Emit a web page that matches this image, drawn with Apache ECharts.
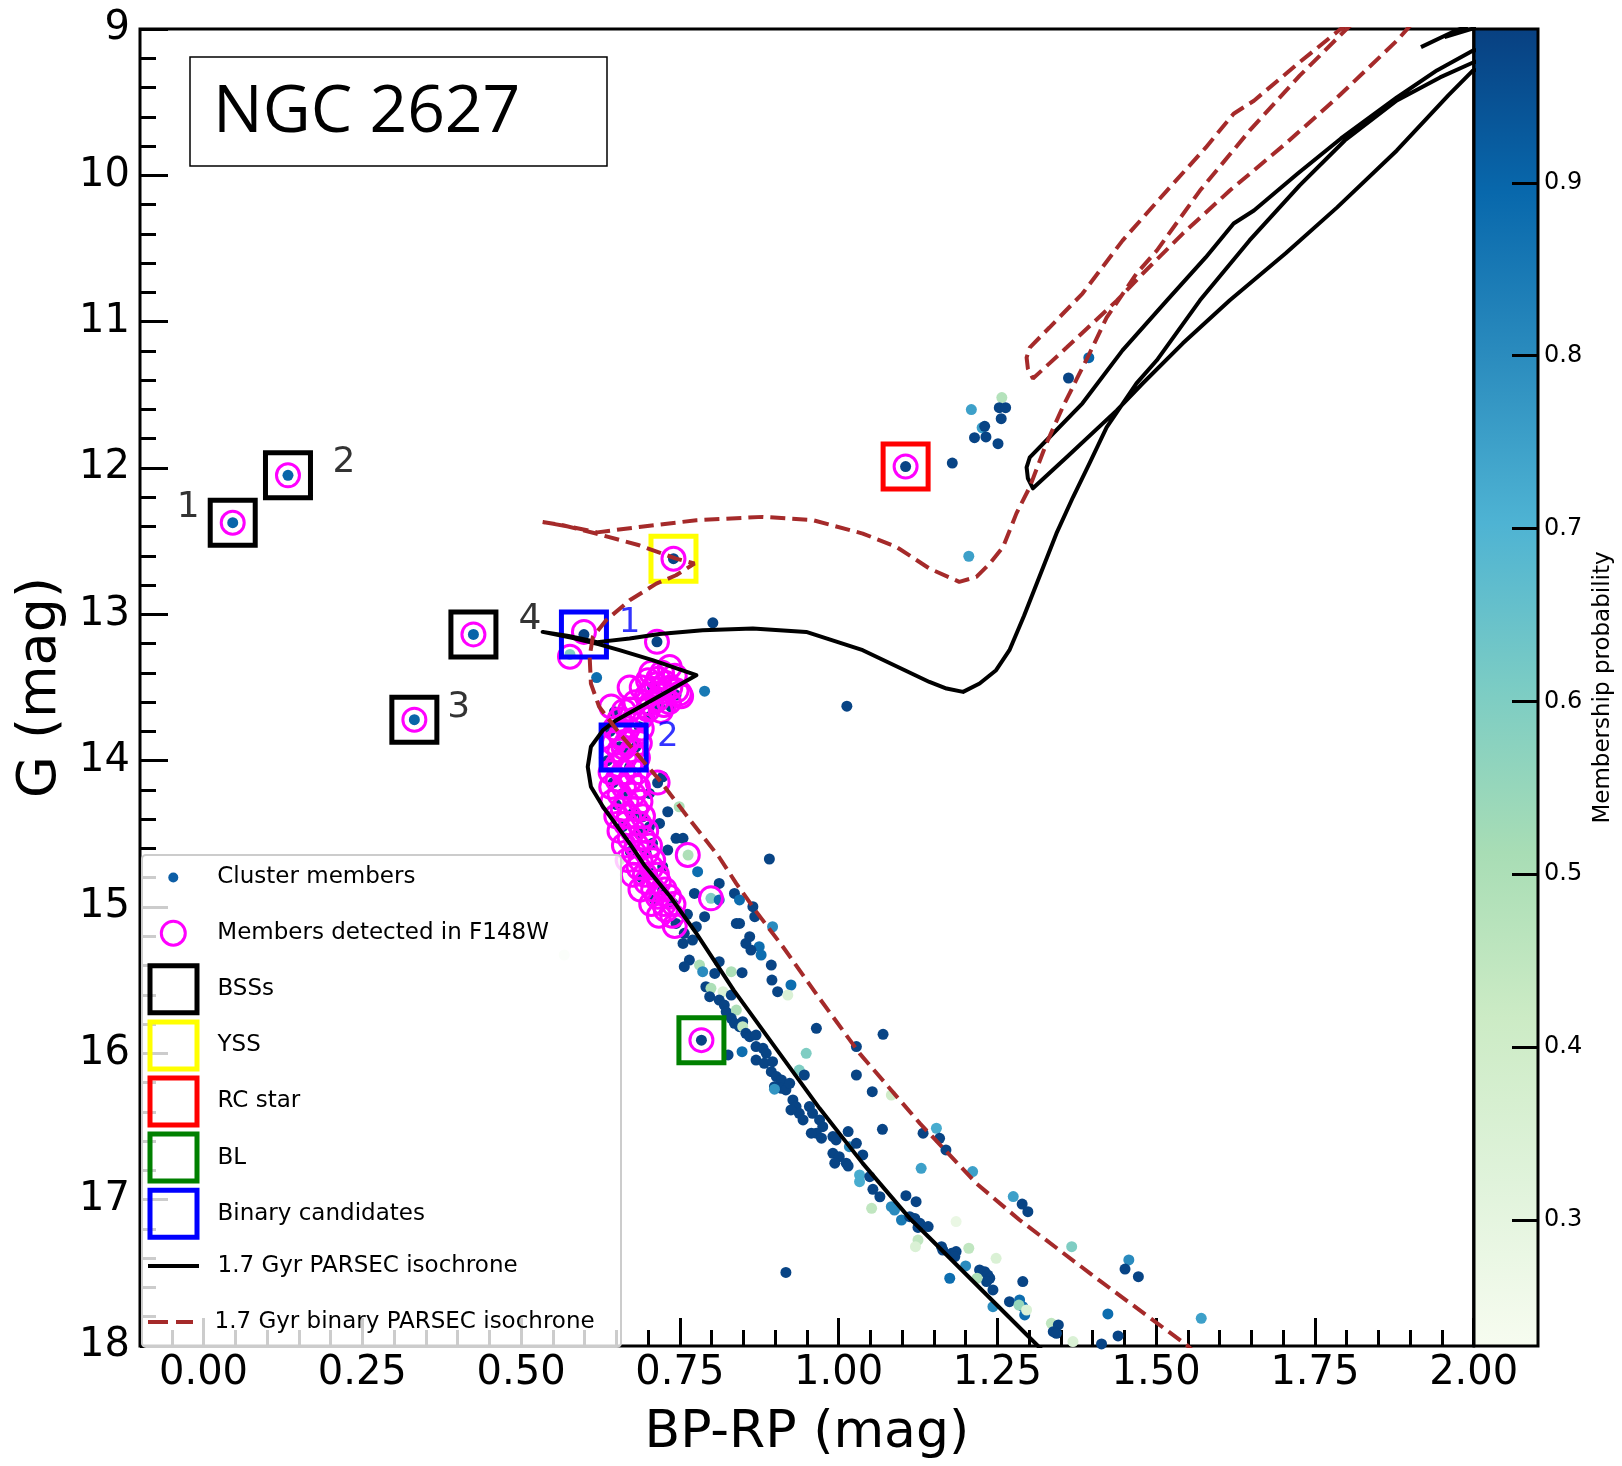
<!DOCTYPE html>
<html><head><meta charset="utf-8">
<script src="https://cdn.jsdelivr.net/npm/echarts@6/dist/echarts.min.js"></script>
<style>html,body{margin:0;padding:0;background:#fff}#c{width:1622px;height:1466px}</style>
</head><body><div id="c"></div>
<script>
const FONT = 'DejaVu Sans';

// ---- axis ticks / labels ----
const xMajorTicks = [0, 0.25, 0.5, 0.75, 1.0, 1.25, 1.5, 1.75, 2.0];
const xMinorTicks = [-0.05,0.05,0.10,0.15,0.20,0.30,0.35,0.40,0.45,0.55,0.60,0.65,0.70,0.80,0.85,0.90,0.95,
  1.05,1.10,1.15,1.20,1.30,1.35,1.40,1.45,1.55,1.60,1.65,1.70,1.80,1.85,1.90,1.95];
const yTicks = [9,10,11,12,13,14,15,16,17,18];
const cbarTicks = [0.3,0.4,0.5,0.6,0.7,0.8,0.9];
const GnBu = ['#f7fcf0','#e0f3db','#ccebc5','#a8ddb5','#7bccc4','#4eb3d3','#2b8cbe','#0868ac','#084081'];

// ---- special stars [BP-RP, G] ----
const bssStars = [[0.046,12.374],[0.133,12.05],[0.332,13.72],[0.425,13.137]];
const yssStars = [[0.740,12.62]];
const rcStars = [[1.1055,11.99]];
const blStars = [[0.784,15.91]];
const binaryStars = [[0.599,13.138],[0.6615,13.91]];
const bssLabels = [['1',-0.024,12.268],['2',0.221,11.964],['3',0.402,13.639],['4',0.514,13.038]];
const binaryLabels = [['1',0.671,13.063],['2',0.731,13.837]];

// ---- cluster members [BP-RP, G, membership probability] ----
const membersSpecial = [[0.046,12.374,0.9],[0.133,12.05,0.9],[0.332,13.72,0.9],[0.425,13.137,0.9],
  [0.740,12.62,0.98],[1.1055,11.99,0.98],[0.784,15.91,0.98],[0.599,13.138,0.98],[0.6615,13.91,0.98]];
const membersGiants = [[1.209,11.601,0.75],[1.257,11.519,0.48],[1.253,11.588,0.98],[1.263,11.588,0.98],
  [1.256,11.663,0.98],[1.226,11.725,0.75],[1.230,11.715,0.98],[1.214,11.793,0.98],[1.232,11.788,0.98],
  [1.251,11.834,0.98],[1.179,11.966,0.98],[1.362,11.385,0.98],[1.394,11.246,0.9],[1.205,12.603,0.75],
  [1.013,13.628,0.98]];
const membersTurnoff = [[0.577,13.274,0.6],[0.802,13.058,0.98],[0.714,13.188,0.98],[0.619,13.432,0.88],
  [0.789,13.525,0.85],[0.744,13.552,0.98],[0.736,13.632,0.98],[0.647,13.666,0.98],[0.715,14.151,0.98],
  [0.749,14.315,0.5],[0.731,14.349,0.98],[0.718,14.429,0.98],[0.702,14.452,0.98],[0.744,14.531,0.98],
  [0.755,14.531,0.98],[0.731,14.611,0.98],[0.763,14.645,0.5],[0.891,14.672,0.98],[0.778,14.759,0.88],
  [0.812,14.839,0.98],[0.773,14.907,0.98],[0.799,14.941,0.6],[0.812,14.952,0.88],[0.836,14.907,0.98],
  [0.844,14.952,0.88],[0.789,15.066,0.98],[0.776,15.135,0.98],[0.757,15.18,0.98],[0.770,15.226,0.98],
  [0.755,15.249,0.98],[0.868,15.066,0.98],[0.839,15.112,0.98],[0.844,15.112,0.98],[0.860,15.203,0.98],
  [0.875,15.271,0.88],[0.896,15.135,0.8],[0.865,14.998,0.98],[0.568,15.328,0.28],[0.655,14.68,0.35],
  [0.655,13.905,0.98],[0.671,14.042,0.98],[0.660,14.224,0.98],[0.676,14.36,0.98],[0.686,14.497,0.98],
  [0.697,14.634,0.98],[0.707,14.77,0.98],[0.723,14.884,0.98],[0.739,14.975,0.98],[0.744,15.112,0.98],
  [0.681,13.905,0.98],[0.686,13.768,0.98],[0.702,13.70,0.98],[0.718,13.632,0.98],[0.728,13.541,0.98],
  [0.707,13.495,0.98],[0.723,14.11,0.98],[0.702,14.224,0.98],[0.692,14.383,0.98],[0.707,14.565,0.98],
  [0.723,14.725,0.98],[0.640,13.80,0.98],[0.636,14.0,0.98],[0.645,14.15,0.98],[0.650,14.3,0.98],
  [0.660,14.45,0.98],[0.672,14.62,0.98],[0.690,14.8,0.98],[0.710,14.95,0.98],[0.762,15.05,0.98]];
const membersMS = [[0.765,15.363,0.98],[0.757,15.408,0.98],[0.781,15.397,0.5],[0.786,15.442,0.8],
  [0.805,15.454,0.98],[0.831,15.442,0.5],[0.848,15.449,0.98],[0.812,15.374,0.98],[0.894,15.397,0.98],
  [0.878,15.328,0.88],[0.854,15.249,0.98],[0.862,15.294,0.98],[0.895,15.499,0.98],[0.904,15.579,0.98],
  [0.925,15.533,0.88],[0.920,15.602,0.35],[0.791,15.545,0.98],[0.799,15.556,0.5],[0.797,15.613,0.98],
  [0.818,15.579,0.35],[0.831,15.602,0.98],[0.812,15.636,0.98],[0.820,15.67,0.98],[0.823,15.716,0.98],
  [0.839,15.704,0.5],[0.831,15.761,0.98],[0.836,15.795,0.98],[0.844,15.818,0.98],[0.849,15.784,0.98],
  [0.849,15.818,0.45],[0.854,15.863,0.98],[0.860,15.886,0.98],[0.870,15.875,0.98],[0.848,15.989,0.88],
  [0.826,16.011,0.98],[0.870,15.954,0.98],[0.881,15.966,0.98],[0.886,16.0,0.98],[0.870,16.046,0.98],
  [0.883,16.068,0.98],[0.896,16.057,0.98],[0.894,16.125,0.98],[0.902,16.159,0.98],[0.910,16.182,0.98],
  [0.899,16.228,0.98],[0.910,16.239,0.98],[0.917,16.25,0.98],[0.923,16.205,0.98],[0.899,16.245,0.78],
  [0.938,16.114,0.6],[0.949,16.0,0.6],[0.946,16.148,0.98],[0.928,16.319,0.98],[0.933,16.364,0.98],
  [0.938,16.41,0.98],[0.925,16.387,0.98],[0.954,16.364,0.98],[0.959,16.41,0.98],[0.944,16.455,0.98],
  [0.970,16.455,0.98],[0.975,16.501,0.98],[0.965,16.546,0.98],[0.957,16.546,0.98],[0.973,16.58,0.98],
  [0.991,16.569,0.98],[0.996,16.592,0.98],[1.015,16.535,0.98],[1.017,16.638,0.8],[1.028,16.615,0.98],
  [0.991,16.683,0.98],[1.001,16.706,0.98],[1.012,16.751,0.98],[0.994,16.751,0.98],[1.015,16.77,0.98],
  [1.038,16.694,0.98],[1.033,16.831,0.72],[1.049,16.843,0.98],[0.965,15.829,0.98],[1.028,15.954,0.98],
  [1.028,16.148,0.98],[1.053,16.262,0.98],[1.070,15.87,0.98],[1.069,16.519,0.98],[1.083,16.285,0.4],
  [1.133,16.546,0.98],[1.154,16.512,0.72],[1.159,16.581,0.98],[1.169,16.66,0.98],[1.130,16.786,0.75],
  [1.211,16.808,0.75]];
const membersLowerMS = [[1.033,16.877,0.72],[1.054,16.929,0.98],[1.065,16.98,0.98],[1.052,17.059,0.45],
  [1.083,17.048,0.8],[1.088,17.071,0.8],[1.106,16.973,0.98],[1.122,17.014,0.98],[1.099,17.139,0.85],
  [1.112,17.116,0.98],[1.120,17.128,0.98],[1.128,17.162,0.98],[1.141,17.184,0.98],[1.125,17.19,0.98],
  [1.125,17.276,0.45],[1.121,17.321,0.35],[1.185,17.15,0.28],[1.162,17.321,0.98],[1.164,17.344,0.98],
  [1.178,17.367,0.98],[1.185,17.355,0.98],[1.183,17.389,0.98],[1.205,17.332,0.45],[1.200,17.453,0.8],
  [1.248,17.401,0.35],[1.222,17.48,0.98],[1.230,17.492,0.98],[1.235,17.515,0.98],[1.238,17.537,0.98],
  [1.243,17.617,0.98],[1.233,17.56,0.98],[1.218,17.537,0.5],[1.175,17.537,0.88],[1.243,17.731,0.8],
  [1.269,17.697,0.98],[1.285,17.685,0.88],[1.290,17.731,0.88],[1.293,17.788,0.88],[1.284,17.72,0.55],
  [1.296,17.754,0.35],[1.290,17.56,0.98],[1.275,16.979,0.75],[1.289,17.03,0.98],[1.298,17.082,0.98],
  [1.367,17.321,0.6],[1.457,17.412,0.8],[1.451,17.474,0.98],[1.472,17.526,0.98],[1.424,17.781,0.88],
  [1.440,17.931,0.98],[1.414,17.986,0.98],[1.571,17.811,0.75],[1.335,17.845,0.45],[1.338,17.902,0.98],
  [1.346,17.856,0.98],[1.343,17.913,0.98],[1.369,17.97,0.35],[0.917,17.497,0.98]];

// ---- members detected in F148W [BP-RP, G] ----
const detectedSpecial = [[0.046,12.374],[0.133,12.05],[0.332,13.72],[0.425,13.137],[0.740,12.62],
  [1.1055,11.99],[0.784,15.91],[0.599,13.12],[0.6615,13.91]];
const detectedBlob = [[0.577,13.29],[0.714,13.188],[0.734,13.36],[0.742,13.42],[0.700,13.45],[0.716,13.44],
  [0.728,13.47],[0.690,13.50],[0.708,13.51],[0.724,13.53],[0.745,13.52],[0.752,13.56],[0.698,13.56],
  [0.715,13.58],[0.733,13.60],[0.680,13.60],[0.662,13.66],[0.642,13.63],[0.700,13.65],[0.720,13.66],
  [0.690,13.70],[0.671,13.50],[0.750,13.54],[0.705,13.40],[0.722,13.40],[0.712,13.48],[0.735,13.50],
  [0.705,13.61],[0.725,13.62],[0.672,13.65],[0.655,13.72],[0.678,13.72]];
const detectedBand = [[0.648,13.78],[0.668,13.78],[0.690,13.78],[0.646,13.88],[0.666,13.88],[0.687,13.88],
  [0.643,13.98],[0.663,13.98],[0.684,13.98],[0.641,14.08],[0.661,14.08],[0.682,14.08],[0.642,14.18],
  [0.662,14.18],[0.684,14.18],[0.715,14.15],[0.644,14.28],[0.666,14.28],[0.688,14.28],[0.650,14.38],
  [0.670,14.38],[0.692,14.38],[0.655,14.48],[0.676,14.48],[0.697,14.48],[0.662,14.58],[0.682,14.58],
  [0.703,14.58],[0.668,14.68],[0.688,14.68],[0.708,14.68],[0.7625,14.645],[0.676,14.78],[0.695,14.78],
  [0.714,14.78],[0.688,14.88],[0.708,14.88],[0.726,14.88],[0.705,14.98],[0.725,14.98],[0.740,14.98],
  [0.799,14.941],[0.717,15.06],[0.738,15.06],[0.742,15.13],
  [0.657,13.83],[0.678,13.83],[0.655,13.93],[0.675,13.93],[0.652,14.03],[0.672,14.03],[0.652,14.13],
  [0.672,14.13],[0.655,14.23],[0.677,14.23],[0.660,14.33],[0.681,14.33],[0.665,14.43],[0.686,14.43],
  [0.671,14.53],[0.692,14.53],[0.678,14.63],[0.698,14.63],[0.685,14.73],[0.705,14.73],[0.697,14.83],
  [0.717,14.83],[0.715,14.93],[0.733,14.93],[0.728,15.02]];

// ---- 1.7 Gyr PARSEC isochrone [BP-RP, G] ----
const isoSingle = [[1.337,18.1],[1.314,18.0],[1.233,17.65],[1.143,17.26],[1.112,17.128],[1.038,16.752],
  [0.970,16.376],[0.907,16.0],[0.835,15.57],[0.776,15.18],[0.735,14.93],[0.695,14.72],[0.671,14.565],
  [0.629,14.315],[0.610,14.178],[0.605,14.042],[0.610,13.905],[0.629,13.791],[0.650,13.723],[0.697,13.609],
  [0.739,13.507],[0.776,13.416],[0.707,13.313],[0.655,13.245],[0.623,13.205],[0.580,13.16],[0.534,13.12],
  [0.575,13.148],[0.620,13.19],[0.671,13.165],[0.718,13.135],[0.786,13.108],[0.865,13.097],[0.949,13.12],
  [1.038,13.245],[1.143,13.462],[1.170,13.507],[1.196,13.53],[1.222,13.473],[1.248,13.382],[1.269,13.245],
  [1.292,13.01],[1.312,12.789],[1.343,12.447],[1.369,12.2],[1.395,11.968],[1.422,11.722],[1.469,11.422],
  [1.501,11.264],[1.569,10.854],[1.647,10.445],[1.726,10.069],[1.797,9.762],[1.879,9.488],[1.947,9.331],
  [1.999,9.229],[2.06,9.15],[2.06,9.25],[1.999,9.283],[1.960,9.454],[1.879,9.83],[1.785,10.219],
  [1.704,10.533],[1.616,10.854],[1.542,11.148],[1.479,11.421],[1.438,11.606],[1.359,11.927],[1.306,12.139],
  [1.298,12.07],[1.296,11.995],[1.301,11.927],[1.332,11.79],[1.384,11.558],[1.447,11.196],[1.517,10.854],
  [1.578,10.561],[1.622,10.329],[1.654,10.24],[1.723,9.987],[1.791,9.748],[1.879,9.468],[1.942,9.283],
  [1.999,9.147],[2.06,9.1]];
const isoSingleAGB1 = [[1.917,9.124],[1.966,9.022],[1.99,8.98]];
const isoSingleAGB2 = [[1.954,9.056],[1.997,8.999],[2.02,8.97]];

// ---- 1.7 Gyr binary PARSEC isochrone [BP-RP, G] ----
const isoBinary = [[1.565,18.06],[1.548,17.993],[1.41,17.55],[1.285,17.139],[1.217,16.889],[1.128,16.479],
  [1.033,16.0],[0.970,15.625],[0.912,15.27],[0.870,15.03],[0.839,14.84],[0.812,14.66],[0.765,14.40],
  [0.718,14.133],[0.655,13.814],[0.623,13.632],[0.610,13.473],[0.608,13.29],[0.613,13.154],[0.634,13.04],
  [0.671,12.904],[0.713,12.79],[0.744,12.733],[0.773,12.653],[0.744,12.619],[0.686,12.528],[0.618,12.448],
  [0.566,12.391],[0.534,12.369],[0.575,12.40],[0.620,12.44],[0.686,12.403],[0.776,12.357],[0.881,12.334],
  [0.960,12.357],[1.038,12.448],[1.091,12.539],[1.143,12.687],[1.190,12.778],[1.217,12.744],[1.238,12.653],
  [1.259,12.54],[1.280,12.31],[1.301,12.13],[1.327,11.834],[1.353,11.583],[1.374,11.40],[1.395,11.218],
  [1.422,10.972],[1.469,10.672],[1.501,10.514],[1.569,10.104],[1.647,9.695],[1.726,9.319],[1.797,9.012],
  [1.83,8.88],[1.92,8.88],[1.879,9.08],[1.785,9.469],[1.704,9.783],[1.616,10.104],[1.542,10.398],
  [1.479,10.671],[1.438,10.856],[1.359,11.177],[1.306,11.389],[1.298,11.32],[1.296,11.245],[1.301,11.177],
  [1.332,11.04],[1.384,10.808],[1.447,10.446],[1.517,10.104],[1.578,9.811],[1.622,9.579],[1.654,9.49],
  [1.723,9.237],[1.791,8.998],[1.82,8.88]];

// ---- build chart ----
const members = [].concat(membersTurnoff, membersMS, membersLowerMS, membersGiants, membersSpecial);
const detected = [].concat(detectedBlob, detectedBand, detectedSpecial);
const annotations = bssLabels.map(d => ({name: d[0], value: [d[1], d[2]], label: {color: '#000', fontSize: 36}}))
  .concat(binaryLabels.map(d => ({name: d[0], value: [d[1], d[2]], label: {color: '#0000ff', fontSize: 34}})));

const hollow = c => ({color: 'rgba(0,0,0,0)', borderColor: c, borderWidth: 5, opacity: 1});
const squareSeries = (name, data, c) => ({name, type: 'scatter', data, symbol: 'rect', symbolSize: 45,
  itemStyle: hollow(c), z: 3, silent: true});
const legText = {fontSize: 23, fontFamily: FONT, color: '#000'};
const legBase = {orient: 'vertical', itemWidth: 78, padding: 0, textStyle: legText,
  selectedMode: false, z: 60};

const option = {
  animation: false,
  backgroundColor: '#fff',
  grid: [
    {left: 140, top: 29, width: 1333.7, height: 1317, show: true, borderColor: '#000', borderWidth: 3,
     backgroundColor: 'rgba(0,0,0,0)'},
    {left: 1474, top: 29, width: 64, height: 1317, show: true, borderColor: '#000', borderWidth: 3,
     backgroundColor: {type: 'linear', x: 0, y: 0, x2: 0, y2: 1,
       colorStops: GnBu.slice().reverse().map((c, i) => ({offset: i / (GnBu.length - 1), color: c}))}}
  ],
  xAxis: [
    {gridIndex: 0, type: 'value', min: -0.1, max: 2.0, position: 'bottom',
     axisLine: {show: false, onZero: false}, splitLine: {show: false},
     axisTick: {show: true, inside: true, length: 28, lineStyle: {color: '#000', width: 3}, customValues: xMajorTicks},
     axisLabel: {customValues: xMajorTicks, formatter: v => v.toFixed(2), fontSize: 40, fontFamily: FONT,
       color: '#000', margin: 8, showMaxLabel: true},
     name: 'BP-RP (mag)', nameLocation: 'middle', nameGap: 61,
     nameTextStyle: {fontSize: 52, fontFamily: FONT, color: '#000'}},
    {gridIndex: 0, type: 'value', min: -0.1, max: 2.0, position: 'bottom',
     axisLine: {show: false, onZero: false}, splitLine: {show: false}, axisLabel: {show: false},
     axisTick: {show: true, inside: true, length: 16, lineStyle: {color: '#000', width: 3}, customValues: xMinorTicks}},
    {gridIndex: 1, type: 'value', min: 0, max: 1, show: false}
  ],
  yAxis: [
    {gridIndex: 0, type: 'value', min: 9, max: 18, interval: 1, inverse: true,
     axisLine: {show: false, onZero: false}, splitLine: {show: false}, minorSplitLine: {show: false},
     axisTick: {show: true, inside: true, length: 28, lineStyle: {color: '#000', width: 3}},
     minorTick: {show: true, splitNumber: 5, length: 16, lineStyle: {color: '#000', width: 3}},
     axisLabel: {customValues: yTicks, fontSize: 40, fontFamily: FONT, color: '#000', margin: 10},
     name: 'G (mag)', nameLocation: 'middle', nameGap: 66, nameRotate: 90,
     nameTextStyle: {fontSize: 54, fontFamily: FONT, color: '#000'}},
    {gridIndex: 1, type: 'value', min: 0.227, max: 0.989, position: 'right',
     axisLine: {show: false, onZero: false}, splitLine: {show: false},
     axisTick: {show: true, inside: true, length: 26, lineStyle: {color: '#000', width: 3}, customValues: cbarTicks},
     axisLabel: {customValues: cbarTicks, formatter: v => v.toFixed(1), fontSize: 24, fontFamily: FONT,
       color: '#000', margin: 6},
     name: 'Membership probability', nameLocation: 'middle', nameGap: 54, nameRotate: 90,
     nameTextStyle: {fontSize: 23, fontFamily: FONT, color: '#000'}}
  ],
  visualMap: {type: 'continuous', show: false, seriesIndex: 0, dimension: 2, min: 0.227, max: 0.989,
    inRange: {color: GnBu}},
  legend: [
    Object.assign({}, legBase, {left: 168.3, top: 866, itemHeight: 10,
      data: [{name: 'Cluster members', icon: 'circle', itemStyle: {color: '#0d5ea6', borderWidth: 0, opacity: 1}}]}),
    Object.assign({}, legBase, {left: 159.8, top: 919.7, itemHeight: 24,
      data: [{name: 'Members detected in F148W', icon: 'circle',
        itemStyle: {color: 'rgba(0,0,0,0)', borderColor: '#ff00ff', borderWidth: 3, opacity: 1}}]}),
    Object.assign({}, legBase, {left: 147.5, top: 963.3, itemHeight: 47, itemGap: 4.1,
      data: [['BSSs', '#000000'], ['YSS', '#ffff00'], ['RC star', '#ff0000'], ['BL', '#008000'],
        ['Binary candidates', '#0000ff']].map(d => ({name: d[0], icon: 'path://M0,0H10V10H0Z', itemStyle: hollow(d[1])}))}),
    Object.assign({}, legBase, {left: 148, top: 1254.5, itemHeight: 4,
      data: [{name: '1.7 Gyr PARSEC isochrone', icon: 'path://M0,0H51V4H0Z',
        itemStyle: {color: '#000', borderWidth: 0, opacity: 1}}]}),
    Object.assign({}, legBase, {left: 148, top: 1310.5, itemHeight: 4,
      data: [{name: '1.7 Gyr binary PARSEC isochrone', icon: 'path://M0,0H20V4H0ZM28,0H45V4H28Z',
        itemStyle: {color: '#a52a2a', borderWidth: 0, opacity: 1}}]})
  ],
  graphic: [
    {type: 'rect', z: 50, silent: true, shape: {x: 142, y: 855, width: 479, height: 492, r: 4},
     style: {fill: 'rgba(255,255,255,0.8)', stroke: '#cccccc', lineWidth: 2}},
    {type: 'rect', z: 50, silent: true, shape: {x: 190, y: 57, width: 417, height: 109},
     style: {fill: '#fff', stroke: '#000', lineWidth: 1.5}},
    {type: 'text', z: 51, silent: true, x: 213, y: 113,
     style: {text: 'NGC 2627', font: '66px "Open Sans"', fill: '#000', verticalAlign: 'middle'}}
  ],
  series: [
    {name: 'Cluster members', type: 'scatter', data: members, symbolSize: 11, z: 2, silent: true,
     itemStyle: {opacity: 1}},
    {name: 'Members detected in F148W', type: 'scatter', data: detected, symbol: 'circle', symbolSize: 23,
     itemStyle: {color: 'rgba(0,0,0,0)', borderColor: '#ff00ff', borderWidth: 3, opacity: 1}, z: 3, silent: true},
    squareSeries('BSSs', bssStars, '#000000'),
    squareSeries('YSS', yssStars, '#ffff00'),
    squareSeries('RC star', rcStars, '#ff0000'),
    squareSeries('BL', blStars, '#008000'),
    squareSeries('Binary candidates', binaryStars, '#0000ff'),
    {name: '1.7 Gyr PARSEC isochrone', type: 'line', data: isoSingle, symbol: 'none', z: 4, silent: true,
     lineStyle: {color: '#000', width: 4, join: 'round'}},
    {name: '1.7 Gyr PARSEC isochrone', type: 'line', data: isoSingleAGB1, symbol: 'none', z: 4, silent: true,
     lineStyle: {color: '#000', width: 4}},
    {name: '1.7 Gyr PARSEC isochrone', type: 'line', data: isoSingleAGB2, symbol: 'none', z: 4, silent: true,
     lineStyle: {color: '#000', width: 4}},
    {name: '1.7 Gyr binary PARSEC isochrone', type: 'line', data: isoBinary, symbol: 'none', z: 4, silent: true,
     lineStyle: {color: '#a52a2a', width: 4, type: [15, 7]}},
    {name: 'annotations', type: 'scatter', data: annotations, symbolSize: 1, z: 6, silent: true,
     itemStyle: {color: 'rgba(0,0,0,0)'},
     label: {show: true, position: 'inside', formatter: '{b}', fontFamily: FONT}}
  ]
};
const chart = echarts.init(document.getElementById('c'), null, {renderer: 'canvas'});
chart.setOption(option);
</script></body></html>
